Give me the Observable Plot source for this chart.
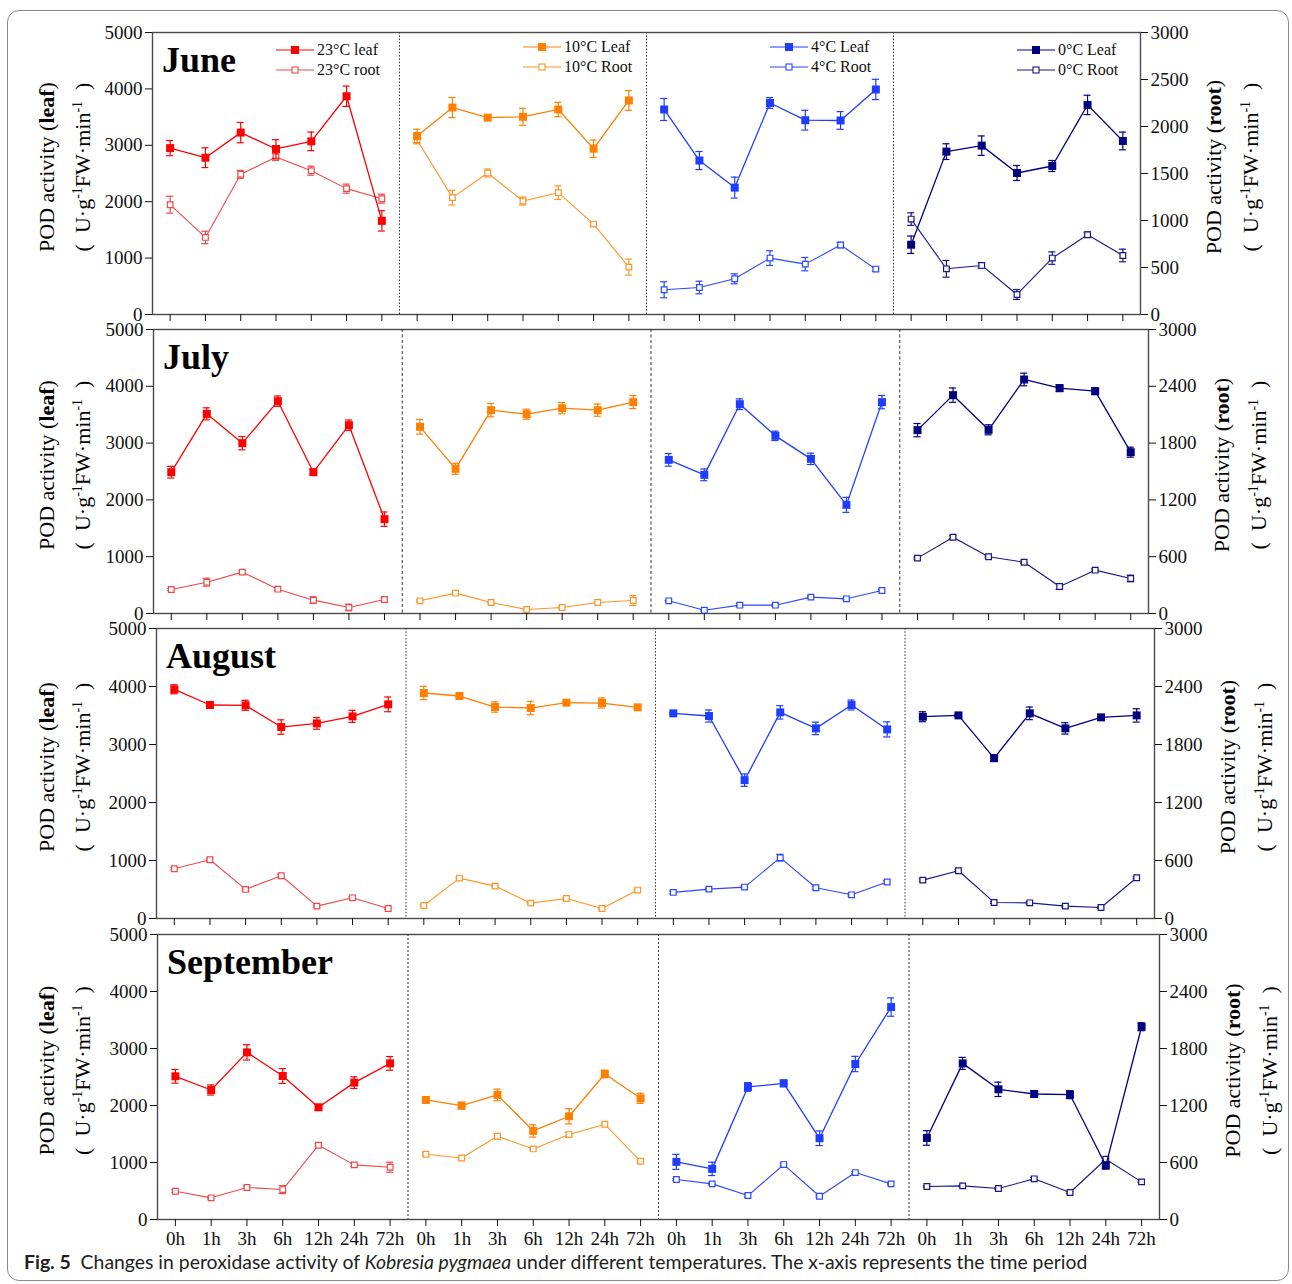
<!DOCTYPE html>
<html><head><meta charset="utf-8">
<script src="https://cdn.jsdelivr.net/npm/d3@7"></script>
<script src="https://cdn.jsdelivr.net/npm/@observablehq/plot@0.6"></script>
<style>
html,body{margin:0;padding:0;background:#fff;}
#fig{position:relative;width:1292px;height:1284px;overflow:hidden;background:#fff;}
#border{position:absolute;left:7px;top:10px;width:1282px;height:1271px;border:1.3px solid #8a8a8a;border-radius:12px;box-sizing:border-box;}
.row{position:absolute;left:0;}
#caption{position:absolute;left:24px;top:1250px;font-family:Lato,"Open Sans",sans-serif;font-size:19.4px;color:#231f20;white-space:nowrap;}
</style></head><body>
<div id="fig"><div id="border"></div>
<div id="caption"><b>Fig. 5</b>&nbsp; Changes in peroxidase activity of <i>Kobresia pygmaea</i> under different temperatures. The x-axis represents the time period</div>
</div>
<script>
// ---------------- data ----------------
const months = ["June", "July", "August", "September"];
const temps = ["23°C", "10°C", "4°C", "0°C"];
const times = ["0h", "1h", "3h", "6h", "12h", "24h", "72h"];
const legendLeaf = ["23°C leaf", "10°C Leaf", "4°C Leaf", "0°C Leaf"];
const legendRoot = ["23°C root", "10°C Root", "4°C Root", "0°C Root"];
const leafTicks = [0, 1000, 2000, 3000, 4000, 5000];
const rootTicksJune = [0, 500, 1000, 1500, 2000, 2500, 3000];
const rootTicksOther = [0, 600, 1200, 1800, 2400, 3000];

// leaf values (left axis), one array per temperature: 23, 10, 4, 0 °C
const juneLeaf = [
  [2950, 2780, 3225, 2935, 3070, 3870, 1660],
  [3165, 3670, 3490, 3505, 3635, 2940, 3795],
  [3635, 2730, 2250, 3750, 3445, 3440, 3990],
  [1237, 2888, 2994, 2509, 2633, 3716, 3077]];
const juneLeafErr = [
  [135, 175, 180, 165, 165, 180, 180],
  [120, 178, 25, 150, 127, 154, 175],
  [195, 160, 186, 95, 175, 157, 180],
  [154, 139, 172, 133, 98, 172, 157]];
// root values (right axis)
const juneRoot = [
  [1168, 820, 1491, 1676, 1530, 1339, 1232],
  [1857, 1243, 1505, 1207, 1296, 962, 504],
  [263, 287, 380, 600, 536, 739, 483],
  [1015, 486, 522, 213, 600, 848, 628]];
const juneRootErr = [
  [90, 66, 42, 36, 48, 48, 48],
  [42, 78, 42, 42, 72, 21, 85],
  [85, 67, 53, 78, 71, 28, 21],
  [67, 89, 28, 53, 66, 28, 67]];

const julyLeaf = [
  [2488, 3515, 2999, 3738, 2488, 3316, 1661],
  [3286, 2547, 3580, 3509, 3615, 3580, 3721],
  [2705, 2441, 3685, 3128, 2723, 1913, 3721],
  [3228, 3844, 3234, 4120, 3967, 3914, 2840]];
const julyLeafErr = [
  [103, 106, 117, 91, 50, 91, 126],
  [129, 97, 117, 88, 100, 108, 114],
  [111, 103, 94, 82, 100, 132, 117],
  [117, 126, 88, 111, 59, 59, 88]];
const julyRoot = [
  [254, 331, 437, 257, 141, 64, 148],
  [134, 215, 116, 42, 63, 116, 137],
  [134, 35, 88, 88, 173, 155, 243],
  [585, 806, 599, 542, 285, 458, 370]];
const julyRootErr = [
  [12, 42, 18, 12, 35, 35, 18],
  [10, 8, 8, 8, 8, 10, 53],
  [5, 10, 15, 10, 12, 10, 12],
  [10, 15, 10, 12, 30, 12, 35]];

const augustLeaf = [
  [3952, 3681, 3675, 3301, 3364, 3485, 3692],
  [3888, 3836, 3646, 3629, 3721, 3715, 3641],
  [3537, 3491, 2385, 3554, 3278, 3681, 3260],
  [3479, 3502, 2765, 3537, 3278, 3468, 3502]];
const augustLeafErr = [
  [78, 20, 86, 124, 101, 104, 127],
  [115, 10, 89, 115, 15, 86, 15],
  [15, 104, 107, 115, 107, 86, 130],
  [86, 20, 58, 109, 98, 20, 115]];
const augustRoot = [
  [515, 608, 301, 442, 128, 214, 104],
  [135, 418, 335, 159, 207, 104, 294],
  [270, 304, 325, 629, 318, 245, 377],
  [397, 494, 166, 162, 128, 114, 422]];
const augustRootErr = [
  [12, 15, 12, 15, 9, 12, 9],
  [8, 8, 8, 8, 10, 8, 10],
  [15, 10, 12, 35, 15, 12, 15],
  [12, 10, 10, 12, 10, 8, 10]];

const septemberLeaf = [
  [2512, 2272, 2932, 2518, 1969, 2401, 2739],
  [2097, 1998, 2185, 1554, 1811, 2553, 2126],
  [1011, 888, 2325, 2389, 1425, 2728, 3727],
  [1431, 2739, 2284, 2202, 2190, 946, 3382]];
const septemberLeafErr = [
  [120, 88, 134, 131, 47, 102, 120],
  [15, 58, 102, 108, 134, 67, 88],
  [131, 117, 76, 58, 128, 134, 161],
  [128, 105, 126, 58, 70, 58, 70]];
const septemberRoot = [
  [298, 228, 337, 315, 782, 575, 550],
  [687, 648, 876, 743, 894, 1002, 613],
  [421, 375, 252, 578, 245, 494, 375],
  [347, 354, 326, 428, 284, 634, 396]];
const septemberRootErr = [
  [15, 12, 12, 42, 15, 18, 53],
  [12, 10, 28, 12, 25, 10, 15],
  [10, 8, 15, 15, 10, 10, 10],
  [8, 8, 10, 15, 10, 15, 8]];

// ---------------- styling / layout ----------------
const leafColors = ["#ff0000", "#ff7f00", "#1f3dff", "#000080"];
const rootColors = ["#f04848", "#ff9426", "#2b47ff", "#16168a"];
const K = 5000 / 3000; // root -> left-axis units
const FIGW = 1292;
const layout = [
  {L: 152, R: 1140, T: 32, B: 314, dash: "1.5,1.8", rootTicks: rootTicksJune, labels: false, legend: true},
  {L: 153, R: 1148, T: 329, B: 613, dash: "3,2.5", rootTicks: rootTicksOther, labels: false, legend: false},
  {L: 156, R: 1154, T: 628, B: 918, dash: "1.5,1.8", rootTicks: rootTicksOther, labels: false, legend: false},
  {L: 157, R: 1159, T: 934, B: 1219, dash: "2,2", rootTicks: rootTicksOther, labels: true, legend: false}];
const monthData = [
  [juneLeaf, juneLeafErr, juneRoot, juneRootErr],
  [julyLeaf, julyLeafErr, julyRoot, julyRootErr],
  [augustLeaf, augustLeafErr, augustRoot, augustRootErr],
  [septemberLeaf, septemberLeafErr, septemberRoot, septemberRootErr]];

function buildTable(leaf, leafErr, root, rootErr) {
  const out = [];
  temps.forEach((t, p) => times.forEach((h, i) => {
    const x = p * times.length + i;
    out.push({series: "leaf", p, x, y: leaf[p][i], e: leafErr[p][i]});
    out.push({series: "root", p, x, y: root[p][i] * K, e: rootErr[p][i] * K});
  }));
  return out;
}

const fig = document.getElementById("fig");
const MT = 6;

layout.forEach((lay, r) => {
  const MB = lay.labels ? 44 : 30;
  const tbl = buildTable(...monthData[r]);
  const marks = [
    Plot.frame({stroke: "#4a4a4a", strokeWidth: 1.4}),
    Plot.ruleX([6.5, 13.5, 20.5], {stroke: "#333", strokeWidth: 1, strokeDasharray: lay.dash})
  ];
  temps.forEach((t, p) => {
    ["root", "leaf"].forEach(s => {
      const d = tbl.filter(v => v.p === p && v.series === s);
      const c = s === "leaf" ? leafColors[p] : rootColors[p];
      marks.push(Plot.line(d, {x: "x", y: "y", stroke: c, strokeWidth: s === "leaf" ? 1.3 : 1.1}));
      marks.push(Plot.ruleX(d, {x: "x", y1: v => v.y - v.e, y2: v => v.y + v.e, stroke: c, strokeWidth: 1.2}));
      marks.push(Plot.ruleY(d, {x1: v => v.x - 0.1, x2: v => v.x + 0.1, y: v => v.y + v.e, stroke: c, strokeWidth: 1.2}));
      marks.push(Plot.ruleY(d, {x1: v => v.x - 0.1, x2: v => v.x + 0.1, y: v => v.y - v.e, stroke: c, strokeWidth: 1.2}));
      if (s === "leaf") {
        marks.push(Plot.dot(d, {x: "x", y: "y", symbol: "square", r: 4.5, fill: c, stroke: "none"}));
      } else {
        marks.push(Plot.dot(d, {x: "x", y: "y", symbol: "square", r: 3.2, fill: "white", stroke: c, strokeWidth: 1.2}));
      }
    });
  });
  marks.push(Plot.axisY(leafTicks, {anchor: "left", tickSize: 7, tickPadding: 3, tickFormat: d => String(d), label: null}));
  marks.push(Plot.axisY(lay.rootTicks.map(v => v * K), {anchor: "right", tickSize: 7, tickPadding: 3, tickFormat: d => String(Math.round(d / K)), label: null}));
  marks.push(Plot.axisX(d3.range(temps.length * times.length), {anchor: "bottom", tickSize: 7, tickPadding: 5,
    tickFormat: i => lay.labels ? times[i % times.length] : "", label: null}));

  const plot = Plot.plot({
    width: FIGW,
    height: MT + (lay.B - lay.T) + MB,
    marginLeft: lay.L, marginRight: FIGW - lay.R, marginTop: MT, marginBottom: MB,
    x: {domain: [-0.5, temps.length * times.length - 0.5], label: null},
    y: {domain: [0, 5000], label: null},
    style: {background: "transparent", overflow: "visible", fontFamily: "'Liberation Serif', 'Times New Roman', serif", fontSize: "19px", color: "#111"},
    marks
  });
  const wrap = document.createElement("div");
  wrap.className = "row";
  wrap.style.top = (lay.T - MT) + "px";
  wrap.appendChild(plot);
  fig.appendChild(wrap);

  const svg = d3.select(plot);
  const off = lay.T - MT;
  const font = "'Liberation Serif', 'Times New Roman', serif";
  // month label
  svg.append("text").attr("x", lay.L + 10).attr("y", lay.T + 40 - off).attr("text-anchor", "start")
    .attr("font-family", font).attr("font-size", 36).attr("font-weight", "bold").attr("fill", "#000")
    .text(months[r]);
  // y titles
  const cy = (lay.T + lay.B) / 2 - 6 - off;
  function yTitle(x, which) {
    const t1 = svg.append("text").attr("transform", `translate(${x},${cy}) rotate(-90)`)
      .attr("text-anchor", "middle").attr("dy", "0.35em").attr("font-family", font).attr("font-size", 22)
      .attr("fill", "#000").style("white-space", "pre");
    t1.append("tspan").text("POD activity (");
    t1.append("tspan").attr("font-weight", "bold").text(which);
    t1.append("tspan").text(")");
  }
  function unitTitle(x) {
    const t2 = svg.append("text").attr("transform", `translate(${x},${cy}) rotate(-90)`)
      .attr("text-anchor", "middle").attr("dy", "0.35em").attr("font-family", font).attr("font-size", 22)
      .attr("fill", "#000").style("white-space", "pre");
    t2.append("tspan").text("(  U·g");
    t2.append("tspan").attr("dy", -8).attr("font-size", 14).text("-1");
    t2.append("tspan").attr("dy", 8).text("FW·min");
    t2.append("tspan").attr("dy", -8).attr("font-size", 14).text("-1");
    t2.append("tspan").attr("dy", 8).text("  )");
  }
  yTitle(46, "leaf");
  unitTitle(82);
  yTitle(lay.R + 73, "root");
  unitTitle(lay.R + 110);

  // legends (first row only)
  if (lay.legend) {
    const xs = plot.scale("x");
    const dyTop = [18, 15, 15, 18];
    temps.forEach((t, p) => {
      const left = xs.apply(p * times.length - 0.5) + 124;
      [0, 1].forEach(k => {
        const y = lay.T + dyTop[p] + k * 20 - off;
        const c = k === 0 ? leafColors[p] : rootColors[p];
        svg.append("line").attr("x1", left).attr("x2", left + 38).attr("y1", y).attr("y2", y)
          .attr("stroke", c).attr("stroke-width", 1.2);
        if (k === 0) {
          svg.append("rect").attr("x", left + 15).attr("y", y - 4).attr("width", 8).attr("height", 8).attr("fill", c);
        } else {
          svg.append("rect").attr("x", left + 16).attr("y", y - 3).attr("width", 6).attr("height", 6)
            .attr("fill", "white").attr("stroke", c).attr("stroke-width", 1.1);
        }
        svg.append("text").attr("x", left + 41).attr("y", y).attr("dy", "0.33em").attr("text-anchor", "start")
          .attr("font-family", font).attr("font-size", 16).attr("fill", "#111")
          .text(k === 0 ? legendLeaf[p] : legendRoot[p]);
      });
    });
  }
});
</script>
</body></html>
